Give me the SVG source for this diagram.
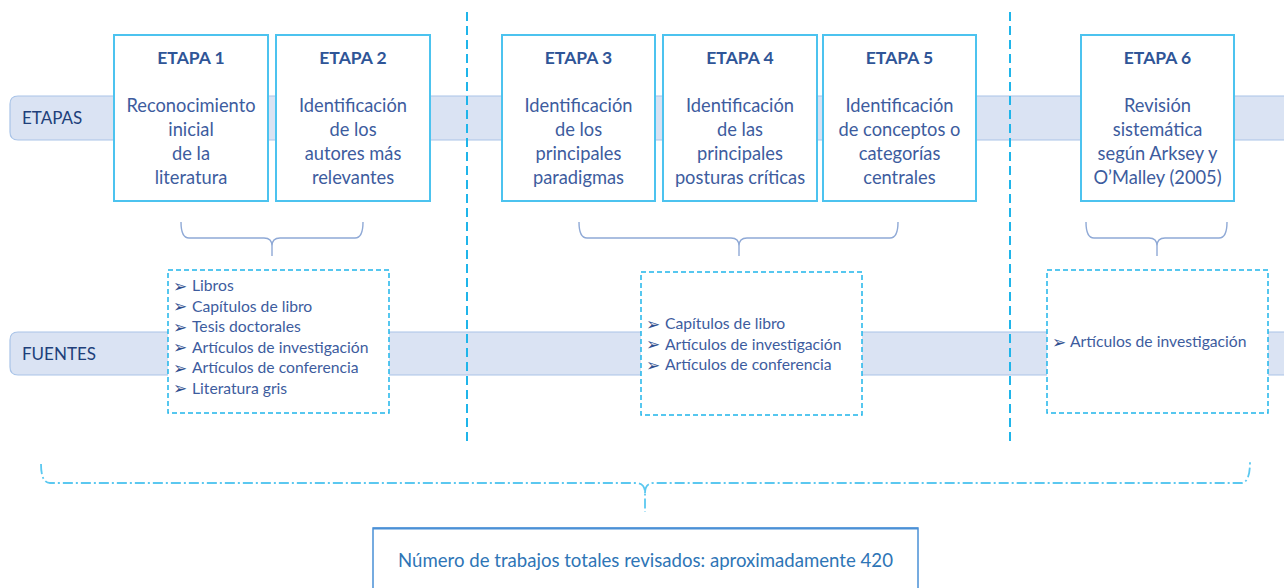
<svg xmlns="http://www.w3.org/2000/svg" width="1284" height="588" viewBox="0 0 1284 588">
<style>
.band{fill:#dae3f3;stroke:#a9c4e8;stroke-width:1.2}
.bandlbl{font-family:Lato,"Liberation Sans",sans-serif;font-size:17px;fill:#203f7a}
.box{fill:#ffffff;stroke:#4cc3ef;stroke-width:2}
.ttl{font-family:Lato,"Liberation Sans",sans-serif;font-size:17.5px;font-weight:bold;fill:#2f5597;text-anchor:middle}
.body{font-family:Lato,"Liberation Sans",sans-serif;font-size:18.3px;fill:#3d5c9e;text-anchor:middle}
.sep{fill:none;stroke:#1fb5ea;stroke-width:2;stroke-dasharray:9 5}
.brace{fill:none;stroke:#8fa9d6;stroke-width:1.4}
.src{fill:#ffffff;stroke:#1fb5ea;stroke-width:1.5;stroke-dasharray:5 3}
.item{font-family:Lato,"Liberation Sans",sans-serif;font-size:15.7px;fill:#3d5c9e}
.bul{font-family:"DejaVu Sans",sans-serif;font-size:17px;fill:#2f4f8f}
.big{fill:none;stroke:#5bc8f0;stroke-width:1.8;stroke-dasharray:10 3 2 3}
.tot{fill:#ffffff;stroke:#4a90d6;stroke-width:1.5}
.totl{font-family:Lato,"Liberation Sans",sans-serif;font-size:18.6px;fill:#2e75b6;text-anchor:middle}
</style>

<g id="band-etapas">
<path class="band" d="M1290,96 H18 Q10,96 10,104 V132 Q10,140 18,140 H1290 Z"/>
<text class="bandlbl" x="22" y="124">ETAPAS</text>
</g>
<g id="band-fuentes">
<path class="band" d="M1290,332 H18 Q10,332 10,340 V367 Q10,375 18,375 H1290 Z"/>
<text class="bandlbl" x="22" y="360">FUENTES</text>
</g>

<g id="separators">
<line class="sep" x1="467" y1="12" x2="467" y2="445"/>
<line class="sep" x1="1010" y1="12" x2="1010" y2="442"/>
</g>

<g id="etapa1">
<rect class="box" x="114" y="35" width="154" height="166"/>
<text class="ttl" x="191" y="64">ETAPA 1</text>
<text class="body" x="191" y="112">Reconocimiento</text>
<text class="body" x="191" y="136">inicial</text>
<text class="body" x="191" y="160">de la</text>
<text class="body" x="191" y="184">literatura</text>
</g>
<g id="etapa2">
<rect class="box" x="276" y="35" width="154" height="166"/>
<text class="ttl" x="353" y="64">ETAPA 2</text>
<text class="body" x="353" y="112">Identificación</text>
<text class="body" x="353" y="136">de los</text>
<text class="body" x="353" y="160">autores más</text>
<text class="body" x="353" y="184">relevantes</text>
</g>
<g id="etapa3">
<rect class="box" x="502" y="35" width="153" height="166"/>
<text class="ttl" x="578.5" y="64">ETAPA 3</text>
<text class="body" x="578.5" y="112">Identificación</text>
<text class="body" x="578.5" y="136">de los</text>
<text class="body" x="578.5" y="160">principales</text>
<text class="body" x="578.5" y="184">paradigmas</text>
</g>
<g id="etapa4">
<rect class="box" x="663" y="35" width="154" height="166"/>
<text class="ttl" x="740" y="64">ETAPA 4</text>
<text class="body" x="740" y="112">Identificación</text>
<text class="body" x="740" y="136">de las</text>
<text class="body" x="740" y="160">principales</text>
<text class="body" x="740" y="184">posturas críticas</text>
</g>
<g id="etapa5">
<rect class="box" x="823" y="35" width="153" height="166"/>
<text class="ttl" x="899.5" y="64">ETAPA 5</text>
<text class="body" x="899.5" y="112">Identificación</text>
<text class="body" x="899.5" y="136">de conceptos o</text>
<text class="body" x="899.5" y="160">categorías</text>
<text class="body" x="899.5" y="184">centrales</text>
</g>
<g id="etapa6">
<rect class="box" x="1081" y="35" width="153" height="166"/>
<text class="ttl" x="1157.5" y="64">ETAPA 6</text>
<text class="body" x="1157.5" y="112">Revisión</text>
<text class="body" x="1157.5" y="136">sistemática</text>
<text class="body" x="1157.5" y="160">según Arksey y</text>
<text class="body" x="1157.5" y="184">O’Malley (2005)</text>
</g>

<g id="connectors">
<path class="brace" d="M181,222 Q181,238 189,238 H264 Q272,238 272,246 V256 M272,246 Q272,238 280,238 H355 Q363,238 363,222"/>
<path class="brace" d="M579,222 Q579,238 587,238 H731 Q739,238 739,246 V256 M739,246 Q739,238 747,238 H890 Q898,238 898,222"/>
<path class="brace" d="M1086,222 Q1086,238 1094,238 H1149 Q1157,238 1157,246 V256 M1157,246 Q1157,238 1165,238 H1219 Q1227,238 1227,222"/>
<path class="big" d="M41,464 Q41,483 50,483 H636 Q645,483 645,493 V512 M645,493 Q645,483 654,483 H1241 Q1250,483 1250,462"/>
</g>

<g id="fuentes1">
<rect class="src" x="168" y="270" width="221" height="143"/>
<text class="bul" x="173" y="291.5">➢</text><text class="item" x="192" y="291">Libros</text>
<text class="bul" x="173" y="312">➢</text><text class="item" x="192" y="311.5">Capítulos de libro</text>
<text class="bul" x="173" y="332.5">➢</text><text class="item" x="192" y="332">Tesis doctorales</text>
<text class="bul" x="173" y="353">➢</text><text class="item" x="192" y="352.5">Artículos de investigación</text>
<text class="bul" x="173" y="373.5">➢</text><text class="item" x="192" y="373">Artículos de conferencia</text>
<text class="bul" x="173" y="394">➢</text><text class="item" x="192" y="393.5">Literatura gris</text>
</g>
<g id="fuentes2">
<rect class="src" x="641" y="272" width="221" height="143"/>
<text class="bul" x="646" y="329.5">➢</text><text class="item" x="665" y="329">Capítulos de libro</text>
<text class="bul" x="646" y="350">➢</text><text class="item" x="665" y="349.5">Artículos de investigación</text>
<text class="bul" x="646" y="370.5">➢</text><text class="item" x="665" y="370">Artículos de conferencia</text>
</g>
<g id="fuentes3">
<rect class="src" x="1047" y="270" width="221" height="143"/>
<text class="bul" x="1052" y="347.5">➢</text><text class="item" x="1070" y="347">Artículos de investigación</text>
</g>

<g id="total">
<rect class="tot" x="373" y="528" width="545" height="70"/>
<line x1="373" y1="528.5" x2="918" y2="528.5" stroke="#4a90d6" stroke-width="2"/>
<text class="totl" x="645.5" y="567">Número de trabajos totales revisados: aproximadamente 420</text>
</g>
</svg>
